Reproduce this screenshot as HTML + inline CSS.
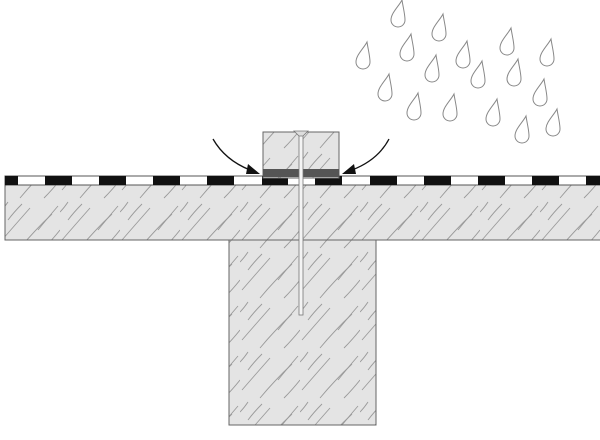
<!DOCTYPE html>
<html><head><style>html,body{margin:0;padding:0;background:#fff}svg{display:block}</style></head>
<body>
<svg width="600" height="440" viewBox="0 0 600 440" xmlns="http://www.w3.org/2000/svg">
<defs>
<pattern id="g" width="60" height="50" patternUnits="userSpaceOnUse">
<rect width="60" height="50" fill="#e4e4e4"/>
<g stroke="#9a9a9a" stroke-width="0.9" fill="none">
<path d="M2 40 Q15 25 30 8"/><path d="M20 48 Q35 30 52 14"/><path d="M38 30 Q46 20 58 6"/>
<path d="M8 20 Q14 12 22 4"/><path d="M44 48 Q52 40 60 30"/><path d="M0 12 Q4 8 8 2"/>
</g>
</pattern>
</defs>
<!-- board -->
<rect x="5" y="185" width="600" height="55" fill="url(#g)" stroke="#666" stroke-width="1"/>
<!-- post -->
<rect x="229" y="240" width="147" height="185" fill="url(#g)" stroke="#666" stroke-width="1"/>
<!-- membrane -->
<rect x="5" y="176" width="600" height="9" fill="#fff" stroke="#555" stroke-width="1"/>
<g fill="#111">
<rect x="5" y="176" width="13" height="9"/>
<rect x="45" y="176" width="27" height="9"/><rect x="99" y="176" width="27" height="9"/>
<rect x="153" y="176" width="27" height="9"/><rect x="207" y="176" width="27" height="9"/>
<rect x="262" y="176" width="26" height="9"/><rect x="315" y="176" width="27" height="9"/>
<rect x="370" y="176" width="27" height="9"/><rect x="424" y="176" width="27" height="9"/>
<rect x="478" y="176" width="27" height="9"/><rect x="532" y="176" width="27" height="9"/>
<rect x="586" y="176" width="14" height="9"/>
</g>
<!-- block -->
<rect x="263" y="132" width="76" height="46" fill="url(#g)" stroke="#666" stroke-width="1"/>
<rect x="263" y="169" width="76" height="8" fill="#555"/>
<!-- nail -->
<rect x="299" y="133" width="4" height="182" fill="#f4f4f4" stroke="#777" stroke-width="0.8"/>
<path d="M294 131 L308 131 L303 136 L299 136 Z" fill="#ddd" stroke="#777" stroke-width="0.8"/>
<!-- arrows -->
<g stroke="#111" stroke-width="1.3" fill="none">
<path d="M213 139 Q225 160 250 170"/><path d="M389 139 Q378 160 352 170"/>
</g>
<path d="M260 174 L248 164 L246 174 Z" fill="#111"/>
<path d="M342 174 L354 164 L356 174 Z" fill="#111"/>
<!-- drops -->
<g fill="none" stroke="#888" stroke-width="1">
<path id="d" d="M4 -14 C1 -8 -7 -1 -7 6 A7 7 0 0 0 7 6 C7 0 5 -7 4 -14 Z" transform="translate(398,14)"/>
<use href="#d" x="41" y="14"/><use href="#d" x="-35" y="42"/><use href="#d" x="9" y="34"/>
<use href="#d" x="34" y="55"/><use href="#d" x="65" y="41"/><use href="#d" x="109" y="28"/>
<use href="#d" x="149" y="39"/><use href="#d" x="-13" y="74"/><use href="#d" x="80" y="61"/>
<use href="#d" x="116" y="59"/><use href="#d" x="142" y="79"/><use href="#d" x="16" y="93"/>
<use href="#d" x="52" y="94"/><use href="#d" x="95" y="99"/><use href="#d" x="124" y="116"/>
<use href="#d" x="155" y="109"/>
</g>
</svg>
</body></html>
